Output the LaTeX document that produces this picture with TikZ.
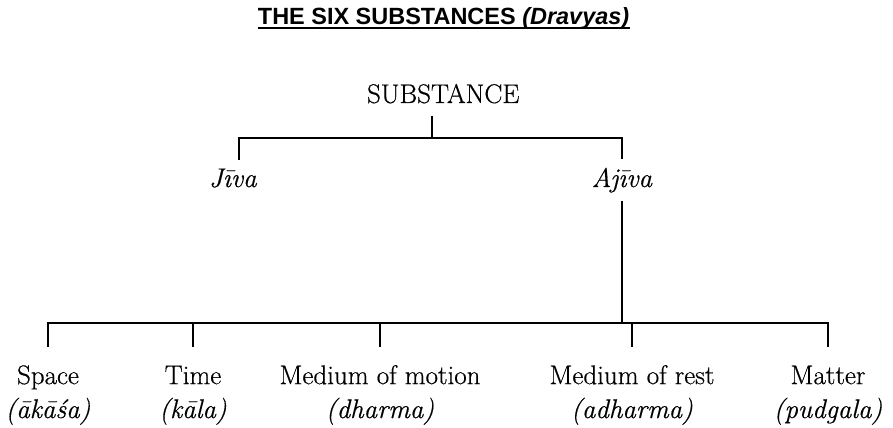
\documentclass[tikz,border=0pt]{standalone}
\usepackage{fontspec}
\setmainfont{Latin Modern Roman}[UprightFeatures={FakeBold=0.5},ItalicFeatures={FakeBold=0.5}]
\newfontfamily\headfont{Liberation Sans}
\usetikzlibrary{calc}

\tikzset{
  term/.style={font=\fontsize{19.2}{24.1}\selectfont,align=center,anchor=base},
  link/.style={line width=1.2pt},
}

\begin{document}
\begin{tikzpicture}
    \useasboundingbox (0,0) rectangle (22.325,10.675);
    % heading
    \node[inner sep=0pt,anchor=base,font=\headfont\bfseries\fontsize{16.7}{20}\selectfont]
      (head) at (11.09,10.05) {THE SIX SUBSTANCES \textit{(Dravyas)}};
    \draw[line width=0.8pt] ([yshift=-0.075cm]head.base west) -- ([yshift=-0.075cm]head.base east);
    % top of the tree
    \node[term,inner sep=0.3cm] (subst) at (11.08,8.1) {SUBSTANCE};
    \node[term,inner sep=0.2cm] (jiva) at (5.825,6.0) {\textit{Jīva}};
    \node[term,inner sep=0.2cm] (ajiva) at (15.55,6.0) {\textit{Ajīva}};
    \coordinate (top) at (10.8,7.225);
    \coordinate (bot) at (15.55,2.6);
    \draw[link] (subst.south -| top) -- (top);
    \draw[link] ([xshift=0.15cm]jiva.north) |- (top) -| (ajiva.north);
    \draw[link] (ajiva.south) -- (bot);
    % the five ajiva substances (base = second line)
    \foreach \x/\name/\lbl/\sub in {
      1.2/space/Space/ākāśa,
      4.825/time/Time/kāla,
      9.5/motion/Medium of motion/dharma,
      15.8/rest/Medium of rest/adharma,
      20.7/matter/Matter/pudgala}{
      \node[term,inner sep=0.45cm] (\name) at (\x,0.225) {\lbl\\\textit{(\sub)}};
    }
    \draw[link] (space.north) |- (bot) -| (matter.north);
    \foreach \name in {time,motion,rest}
      \draw[link] (\name.north) -- (\name.north |- bot);
\end{tikzpicture}
\end{document}
